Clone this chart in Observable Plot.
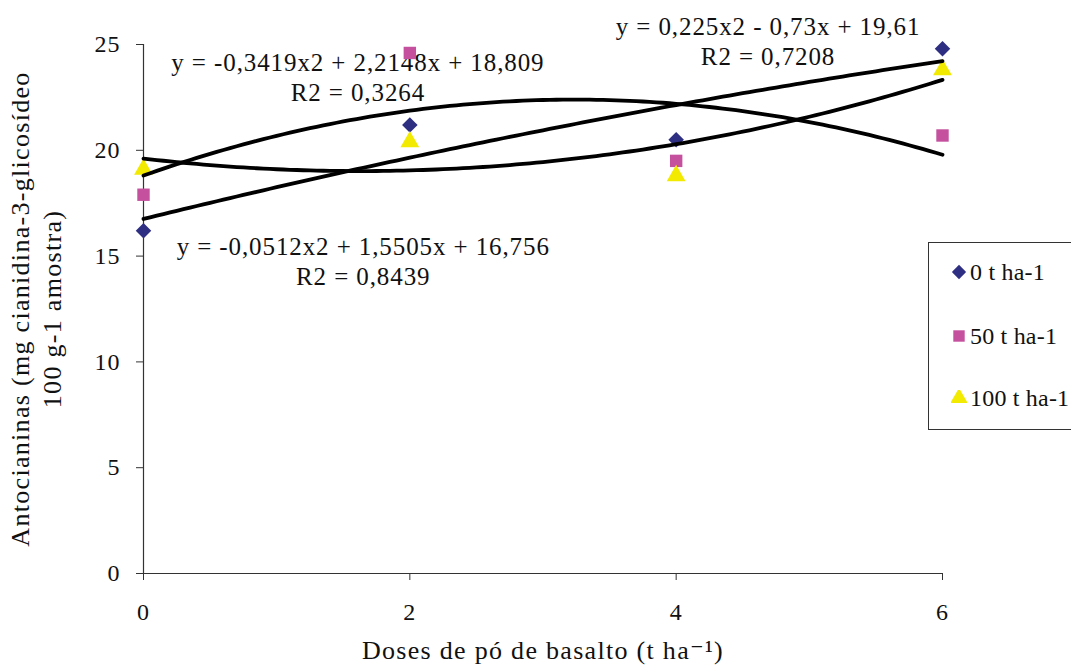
<!DOCTYPE html>
<html>
<head>
<meta charset="utf-8">
<script src="https://cdn.jsdelivr.net/npm/d3@7"></script>
<script src="https://cdn.jsdelivr.net/npm/@observablehq/plot@0.6"></script>
<style>
  html, body { margin: 0; padding: 0; background: #fff; }
  #wrap { position: relative; width: 1071px; height: 666px; overflow: hidden; }
  #legend {
    position: absolute; left: 928px; top: 242px; width: 200px; height: 188px;
    border: 1.5px solid #333; background: #fff; box-sizing: border-box;
    font-family: "Liberation Serif", Tinos, "DejaVu Serif", serif; font-size: 24px; letter-spacing: 0.2px; color: #111;
  }
  #legend .item { position: absolute; left: 22px; height: 28px; display: flex; align-items: center; white-space: nowrap; }
  #legend svg { margin-right: 3px; }
  .ls1 text { letter-spacing: 1px; }
  .ls09 text { letter-spacing: 0.9px; }
  .ls13 text { letter-spacing: 1.3px; }
</style>
</head>
<body>
<div id="wrap">
  <div id="chart"></div>
  <div id="legend"></div>
</div>
<script>
// Basalt powder doses (t ha-1)
const doses = [0, 2, 4, 6];

// Anthocyanin content (mg cyanidin-3-glucoside per 100 g) for each treatment
const series = ["0 t ha-1", "50 t ha-1", "100 t ha-1"];
const values0 = [16.2, 21.2, 20.5, 24.8];
const values50 = [17.9, 24.6, 19.5, 20.7];
const values100 = [19.1, 20.4, 18.8, 23.8];

// Quadratic trend-line coefficients [a, b, c] for y = a x² + b x + c
const coef0 = [-0.0512, 1.5505, 16.756];
const coef50 = [-0.3419, 2.2148, 18.809];
const coef100 = [0.225, -0.73, 19.61];

// Equation labels and where they sit (in data units)
const eqText = [
  "y = -0,3419x2 + 2,2148x + 18,809\nR2 = 0,3264",
  "y = -0,0512x2 + 1,5505x + 16,756\nR2 = 0,8439",
  "y = 0,225x2 - 0,73x + 19,61\nR2 = 0,7208"
];
const eqX = [1.61, 1.65, 4.69];
const eqY = [23.5, 14.78, 25.2];

const colors = ["#2e2e82", "#c4509e", "#f2ea00"];
const symbols = ["diamond2", "square", "triangle"];

const valueSets = [values0, values50, values100];
const coefSets = [coef0, coef50, coef100];

const points = series.flatMap((s, i) =>
  doses.map((d, j) => ({series: s, dose: d, value: valueSets[i][j]})));

// Trend curves evaluated from the stated regression equations
const xs = d3.range(0, 6.0001, 0.05);
const curves = series.flatMap((s, i) => {
  const [a, b, c] = coefSets[i];
  return xs.map(x => ({series: s, dose: x, value: a * x * x + b * x + c}));
});

const labels = eqText.map((t, i) => ({text: t, x: eqX[i], y: eqY[i]}));

const font = "'Liberation Serif', Tinos, 'DejaVu Serif', serif";

const chart = Plot.plot({
  width: 1071,
  height: 666,
  marginLeft: 143,
  marginRight: 129,
  marginTop: 44,
  marginBottom: 93,
  style: {fontFamily: font, fontSize: "24px", color: "#111", background: "#fff"},
  x: {domain: [0, 6], ticks: doses, label: null},
  y: {domain: [0, 25], ticks: [0, 5, 10, 15, 20, 25], label: null},
  symbol: {domain: series, range: symbols},
  color: {domain: series, range: colors},
  marks: [
    Plot.axisX({ticks: doses, tickFormat: d3.format("d"), tickSize: 7, tickPadding: 22, fontSize: 24, fontFamily: font, stroke: "#333", label: null, className: "ls1"}),
    Plot.axisY({ticks: [0, 5, 10, 15, 20, 25], tickFormat: d3.format("d"), tickSize: 7, tickPadding: 16, fontSize: 24, fontFamily: font, stroke: "#333", label: null, className: "ls1"}),
    Plot.ruleX([0], {stroke: "#333", strokeWidth: 1.2}),
    Plot.ruleY([0], {stroke: "#333", strokeWidth: 1.2}),
    Plot.text(labels, {x: "x", y: "y", text: "text", fontSize: 25, fontFamily: font, lineHeight: 1.2, fill: "#111", textAnchor: "middle", clip: false, className: "ls09"}),
    Plot.dot(points, {x: "dose", y: "value", symbol: "series", fill: "series", r: 7, stroke: "none"}),
    Plot.line(curves, {x: "dose", y: "value", z: "series", stroke: "#000", strokeWidth: 3.8}),
    Plot.text(["Antocianinas (mg cianidina-3-glicosídeo\n100 g-1 amostra)"], {
      frameAnchor: "left", rotate: -90, dx: -109, fontSize: 26, fontFamily: font, lineHeight: 1.25, fill: "#111", textAnchor: "middle", className: "ls13"
    }),
    Plot.text(["Doses de pó de basalto (t ha⁻¹)"], {
      frameAnchor: "bottom", dy: 85, fontSize: 26, fontFamily: font, fill: "#111", textAnchor: "middle", className: "ls13"
    })
  ]
});
document.getElementById("chart").appendChild(chart);

// Legend box with the three treatment symbols
const legend = document.getElementById("legend");
const tops = [15, 79, 141];
series.forEach((s, i) => {
  const item = document.createElement("div");
  item.className = "item";
  item.style.top = tops[i] + "px";
  const sym = d3.create("svg").attr("width", 16).attr("height", 16);
  const shape = {diamond2: d3.symbolDiamond2, square: d3.symbolSquare, triangle: d3.symbolTriangle}[symbols[i]];
  sym.append("path")
    .attr("transform", "translate(8,8)")
    .attr("d", d3.symbol(shape, 130)())
    .attr("fill", colors[i]);
  item.appendChild(sym.node());
  const span = document.createElement("span");
  span.textContent = s;
  item.appendChild(span);
  legend.appendChild(item);
});
</script>
</body>
</html>
